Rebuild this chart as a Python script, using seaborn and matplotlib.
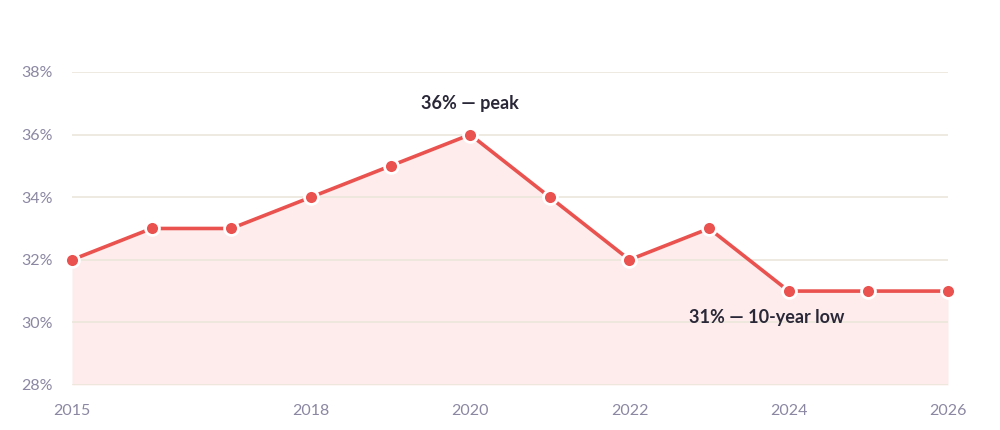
"""Share line chart, 2015-2026, with peak and low labels."""
import pandas as pd
import matplotlib.pyplot as plt
import seaborn as sns

years = [2015, 2016, 2017, 2018, 2019, 2020, 2021, 2022, 2023, 2024, 2025, 2026]
share = [32, 33, 33, 34, 35, 36, 34, 32, 33, 31, 31, 31]
x_ticks = [2015, 2018, 2020, 2022, 2024, 2026]
y_ticks = [28, 30, 32, 34, 36, 38]

RED = '#e9524f'
FILL = '#fdeceb'
GRID = '#ebe6dc'
TICK = '#8b87a2'
INK = '#2a2838'


def plot_share(df):
    sns.set_theme(style='white')
    plt.rcParams['font.family'] = ['Lato', 'DejaVu Sans']
    fig = plt.figure(figsize=(10, 4.3), dpi=100)
    ax = fig.add_axes([0.072, 0.1047, 0.876, 0.7279])

    # fill sits under the gridlines (axisbelow puts them at zorder 0.5)
    ax.fill_between(df['year'], df['share'], 28, color=FILL, lw=0, zorder=0.2)
    sns.lineplot(x='year', y='share', data=df, ax=ax, color=RED, lw=2.6,
                 marker='o', markersize=10, markeredgecolor='white',
                 markeredgewidth=2, clip_on=False, zorder=3)

    ax.set_xlim(2015, 2026)
    ax.set_ylim(28, 38)
    ax.set_xticks(x_ticks)
    ax.set_xticklabels([str(t) for t in x_ticks])
    ax.set_yticks(y_ticks)
    ax.set_yticklabels([f'{t}%' for t in y_ticks])
    ax.set_axisbelow(True)
    ax.grid(axis='y', color=GRID, lw=1.2)
    for s in ax.spines.values():
        s.set_visible(False)
    ax.tick_params(axis='both', length=0, labelsize=11.5, colors=TICK)
    ax.tick_params(axis='x', pad=14)
    ax.tick_params(axis='y', pad=14)
    ax.set_xlabel('')
    ax.set_ylabel('')

    peak = df.loc[df['share'].idxmax()]
    ax.annotate(f"{peak['share']:.0f}% — peak", (peak['year'], peak['share']),
                xytext=(0, 16), textcoords='offset points', ha='center',
                va='bottom', fontsize=13, fontweight='bold', color=INK)
    ax.annotate('31% — 10-year low', (2024, 31), xytext=(-16, -13),
                textcoords='offset points', ha='center', va='top',
                fontsize=13, fontweight='bold', color=INK)

    fig.savefig('out.png', dpi=100)
    plt.close(fig)


if __name__ == '__main__':
    df = pd.DataFrame({'year': years, 'share': share})
    plot_share(df)
